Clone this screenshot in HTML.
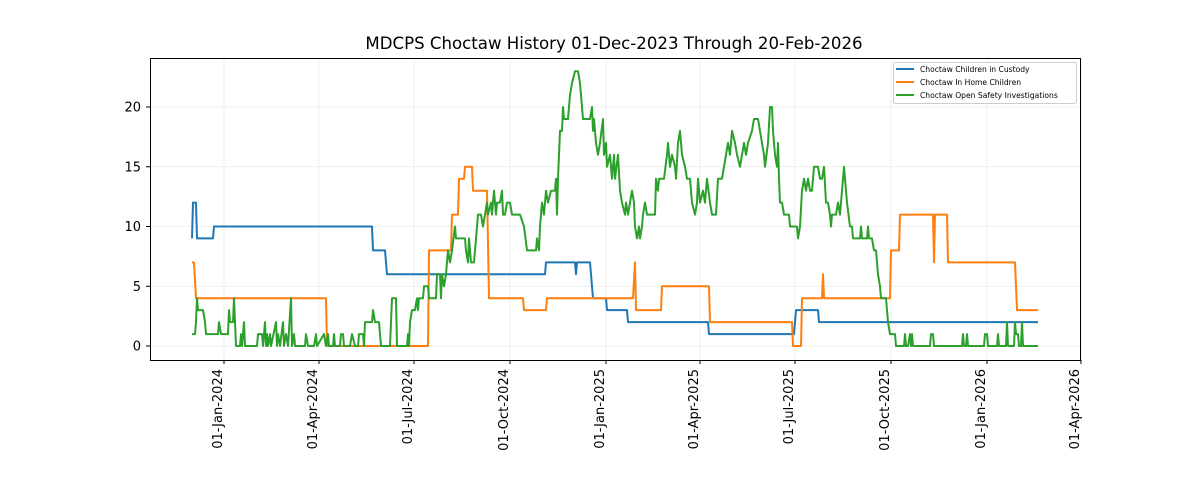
<!DOCTYPE html>
<html><head><meta charset="utf-8"><style>body{margin:0;background:#fff}svg{display:block;font-family:"DejaVu Sans","Liberation Sans",sans-serif}</style></head>
<body>
<svg id="s" width="1200" height="480" xmlns="http://www.w3.org/2000/svg">
<rect width="1200" height="480" fill="#fff"/>
<text x="614" y="49" font-size="16.6" text-anchor="middle" fill="#000">MDCPS Choctaw History 01-Dec-2023 Through 20-Feb-2026</text>
<g id="grid" stroke="#ebebeb" stroke-width="0.8"></g>
<g id="lines" fill="none" stroke-width="2" stroke-linejoin="round"></g>
<rect x="150.5" y="58.5" width="930" height="302" fill="none" stroke="#000" stroke-width="1"/>
<g id="ticks" font-size="13" fill="#000"></g>
<g font-size="7.6" fill="#000">
<rect x="893.5" y="62.5" width="183" height="41" fill="#fff" stroke="#ccc" rx="2"/>
<line x1="896" y1="69" x2="914" y2="69" stroke="#1f77b4" stroke-width="2"/><text x="920" y="72">Choctaw Children in Custody</text>
<line x1="896" y1="82" x2="914" y2="82" stroke="#ff7f0e" stroke-width="2"/><text x="920" y="85">Choctaw In Home Children</text>
<line x1="896" y1="95" x2="914" y2="95" stroke="#2ca02c" stroke-width="2"/><text x="920" y="98">Choctaw Open Safety Investigations</text>
</g>
</svg>
<script>
const NS="http://www.w3.org/2000/svg";
const Y=v=>346-11.95*v;
function el(t,a,p){const e=document.createElementNS(NS,t);for(const k in a)e.setAttribute(k,a[k]);p.appendChild(e);return e;}
const grid=document.getElementById('grid'),ticks=document.getElementById('ticks'),lines=document.getElementById('lines');
const xt=[[224,"01-Jan-2024"],[319,"01-Apr-2024"],[414,"01-Jul-2024"],[510,"01-Oct-2024"],[606,"01-Jan-2025"],[700,"01-Apr-2025"],[795,"01-Jul-2025"],[891,"01-Oct-2025"],[987,"01-Jan-2026"],[1081,"01-Apr-2026"]];
xt.forEach(([x,l])=>{el('line',{x1:x,y1:58,x2:x,y2:360},grid);el('line',{x1:x,y1:360,x2:x,y2:364,stroke:'#000'},ticks);
const t=el('text',{x:0,y:0,transform:`translate(${x-2},369) rotate(-90)`,'text-anchor':'end'},ticks);t.textContent=l;});
[0,5,10,15,20].forEach(v=>{const y=Y(v);el('line',{x1:150,y1:y,x2:1080,y2:y},grid);el('line',{x1:146,y1:y,x2:150,y2:y,stroke:'#000'},ticks);
const t=el('text',{x:141,y:y+4.5,'text-anchor':'end'},ticks);t.textContent=v;});
function step(a){let p=[];for(let i=0;i<a.length;i+=2){p.push(a[i]+','+Y(a[i+1]).toFixed(1));}return p.join(' ');}
const blue=[192,9,193,12,196,12,197,9,213,9,214,10,372,10,373,8,385,8,387,6,545,6,546,7,575,7,576,6,577,7,590,7,593,4,606,4,607,3,627,3,628,2,708,2,709,1,794,1,796,3,818,3,819,2,1038,2];
const orange=[192,7,194,7,196,4,326,4,327,0,428,0,429,8,451,8,452,11,458,11,459,14,464,14,465,15,472,15,473,13,487,13,489,4,523,4,524,3,546,3,547,4,633,4,635,7,636,3,661,3,662,5,709,5,710,2,792,2,793,0,801,0,802,4,822,4,823,6,824,4,890,4,891,8,899,8,900,11,933,11,934,7,935,11,947,11,948,7,1015,7,1017,3,1038,3];
const green=[192,1,195,1,196,2,197,4,198,3,203,3,205,2,206,1,218,1,219,2,221,1,228,1,229,3,230,2,233,2,234,4,235,2,236,0,240,0,241,1,242,0,244,2,245,0,257,0,258,1,262,1,263,0,265,2,266,0,267,1,268,0,270,1,271,0,276,2,277,0,278,1,280,0,283,2,284,0,286,1,288,0,291,4,292,0,294,1,295,0,305,0,306,1,308,0,314,0,316,1,317,0,324,1,326,0,328,1,329,0,333,0,334,1,335,0,340,0,341,1,343,1,344,0,350,0,352,1,355,0,358,0,359,1,363,1,364,0,365,2,372,2,373,3,375,2,379,2,380,1,381,0,390,0,391,2,392,4,396,4,397,0,407,0,408,1,409,0,410,2,412,3,415,3,417,4,418,3,419,4,423,4,424,5,428,5,429,4,436,4,437,6,440,6,441,4,442,6,444,5,446,6,448,8,450,7,452,8,455,10,456,9,465,9,466,8,468,7,469,9,470,8,471,7,474,7,476,9,478,11,481,11,483,10,485,11,487,12,488,11,491,12,492,11,494,13,496,11,497,12,500,12,502,13,503,11,505,11,507,12,510,12,512,11,520,11,524,10,527,8,536,8,537,9,539,8,540,10,541,11,542,12,544,11,546,13,548,12,551,13,555,13,556,14,557,11,558,14,560,18,562,18,563,20,564,19,568,19,570,21,572,22,575,23,578,23,580,22,583,19,590,19,592,20,593,18,594,19,596,17,598,16,600,17,603,19,604,16,606,17,607,15,610,16,612,14,614,16,615,14,618,16,620,13,622,12,625,11,626,12,628,11,630,12,632,13,634,12,635,10,637,9,639,10,640,9,642,10,643,11,645,12,647,11,655,11,656,14,658,13,659,14,664,14,667,16,668,17,670,15,672,16,675,15,676,14,678,17,680,18,682,16,685,15,687,14,690,14,692,12,695,11,697,12,698,14,700,12,703,13,705,12,707,14,710,12,712,11,716,11,718,14,722,14,726,16,728,17,730,16,732,18,735,17,737,16,740,15,744,17,746,16,748,17,752,18,754,19,758,19,760,18,762,17,764,16,765,15,768,17,770,20,772,20,773,18,774,17,775,16,777,15,778,17,779,14,780,12,782,12,784,11,789,11,790,10,797,10,798,9,800,10,802,13,804,14,806,13,808,14,810,13,812,13,814,15,818,15,820,14,822,14,824,15,826,12,828,12,830,11,831,10,832,11,836,11,838,12,840,11,841,12,843,14,844,15,846,13,847,12,850,10,852,10,853,9,860,9,861,10,862,9,867,9,868,10,869,9,872,9,874,8,876,8,877,7,878,6,880,5,881,4,886,4,888,2,890,1,895,1,896,0,904,0,905,1,906,0,908,0,910,1,911,0,912,1,913,0,930,0,931,1,933,1,934,0,962,0,963,1,964,0,966,0,967,1,968,0,984,0,985,1,987,1,988,0,997,0,998,1,999,0,1006,0,1007,2,1008,0,1014,0,1015,2,1016,1,1018,1,1019,0,1021,0,1022,2,1023,0,1038,0];
[[blue,'#1f77b4'],[orange,'#ff7f0e'],[green,'#2ca02c']].forEach(([d,c])=>el('polyline',{points:step(d),stroke:c},lines));
</script>
</body></html>
